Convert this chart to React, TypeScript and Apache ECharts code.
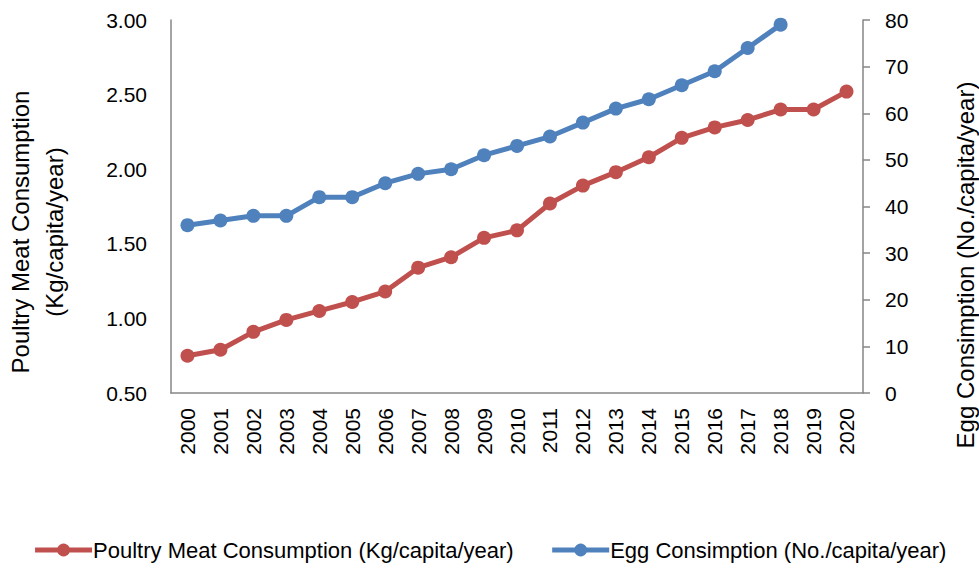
import React, { useEffect, useRef } from "react";
import * as echarts from "echarts";

const years = ["2000","2001","2002","2003","2004","2005","2006","2007","2008","2009","2010","2011","2012","2013","2014","2015","2016","2017","2018","2019","2020"];
const poultryMeat = [0.75,0.79,0.91,0.99,1.05,1.11,1.18,1.34,1.41,1.54,1.59,1.77,1.89,1.98,2.08,2.21,2.28,2.33,2.40,2.40,2.52];
const eggConsumption: (number | null)[] = [36,37,38,38,42,42,45,47,48,51,53,55,58,61,63,66,69,74,79,null,null];
const leftTitleLines = ["Poultry Meat Consumption", "(Kg/capita/year)"];
const rightTitle = "Egg Consimption (No./capita/year)";
const meatName = "Poultry Meat Consumption (Kg/capita/year)";
const eggName = "Egg Consimption (No./capita/year)";

const FONT = "'Liberation Sans', Arial, sans-serif";
const RED = "#C0504D";
const BLUE = "#4F81BD";
const AXIS = "#868686";
const TICK_FS = 21;
const TITLE_FS = 24;

export default function App() {
  const ref = useRef<HTMLDivElement>(null);
  useEffect(() => {
    if (!ref.current) return;
    const chart = echarts.init(ref.current, undefined, { renderer: "svg" });
    chart.setOption({
      animation: false,
      backgroundColor: "#ffffff",
      textStyle: { fontFamily: FONT, color: "#000" },
      grid: { left: 171, right: 116, top: 20, bottom: 175, containLabel: false },
      legend: {
        bottom: 2,
        left: "center",
        itemWidth: 57,
        itemHeight: 16,
        itemGap: 36,
        lineStyle: { width: 5 },
        textStyle: { fontFamily: FONT, fontSize: 22, color: "#000", padding: [0, 0, 0, -4] },
        data: [meatName, eggName],
      },
      xAxis: {
        type: "category",
        data: years,
        boundaryGap: true,
        axisLine: { lineStyle: { color: AXIS, width: 1.5 } },
        axisTick: { show: false },
        axisLabel: { rotate: 90, fontSize: TICK_FS, color: "#000", fontFamily: FONT, margin: 15, interval: 0 },
        splitLine: { show: false },
      },
      yAxis: [
        {
          type: "value",
          min: 0.5,
          max: 3,
          interval: 0.5,
          position: "left",
          axisLine: { show: true, lineStyle: { color: AXIS, width: 1.5 } },
          axisTick: { show: false },
          splitLine: { show: false },
          axisLabel: { fontSize: TICK_FS, color: "#000", fontFamily: FONT, margin: 24, formatter: (v: number) => v.toFixed(2) },
        },
        {
          type: "value",
          min: 0,
          max: 80,
          interval: 10,
          position: "right",
          axisLine: { show: true, lineStyle: { color: AXIS, width: 1.5 } },
          axisTick: { show: true, length: 7, lineStyle: { color: AXIS, width: 1.5 } },
          splitLine: { show: false },
          axisLabel: { fontSize: TICK_FS, color: "#000", fontFamily: FONT, margin: 22 },
        },
      ],
      graphic: [
        {
          type: "text",
          x: 20,
          y: 232,
          rotation: Math.PI / 2,
          style: {
            text: leftTitleLines[0],
            fontSize: TITLE_FS,
            fontFamily: FONT,
            fill: "#000",
            align: "center",
            verticalAlign: "middle",
          },
        },
        {
          type: "text",
          x: 54,
          y: 232,
          rotation: Math.PI / 2,
          style: {
            text: leftTitleLines[1],
            fontSize: TITLE_FS,
            fontFamily: FONT,
            fill: "#000",
            align: "center",
            verticalAlign: "middle",
          },
        },
        {
          type: "text",
          x: 965,
          y: 265,
          rotation: Math.PI / 2,
          style: {
            text: rightTitle,
            fontSize: TITLE_FS,
            fontFamily: FONT,
            fill: "#000",
            align: "center",
            verticalAlign: "middle",
          },
        },
      ],
      series: [
        {
          name: meatName,
          type: "line",
          yAxisIndex: 0,
          data: poultryMeat,
          symbol: "circle",
          symbolSize: 14,
          lineStyle: { color: RED, width: 5 },
          itemStyle: { color: RED },
        },
        {
          name: eggName,
          type: "line",
          yAxisIndex: 1,
          data: eggConsumption,
          symbol: "circle",
          symbolSize: 14,
          lineStyle: { color: BLUE, width: 5 },
          itemStyle: { color: BLUE },
        },
      ],
    });
    return () => chart.dispose();
  }, []);
  return <div ref={ref} style={{ width: 979, height: 568, position: "absolute", left: 0, top: 0 }} />;
}
